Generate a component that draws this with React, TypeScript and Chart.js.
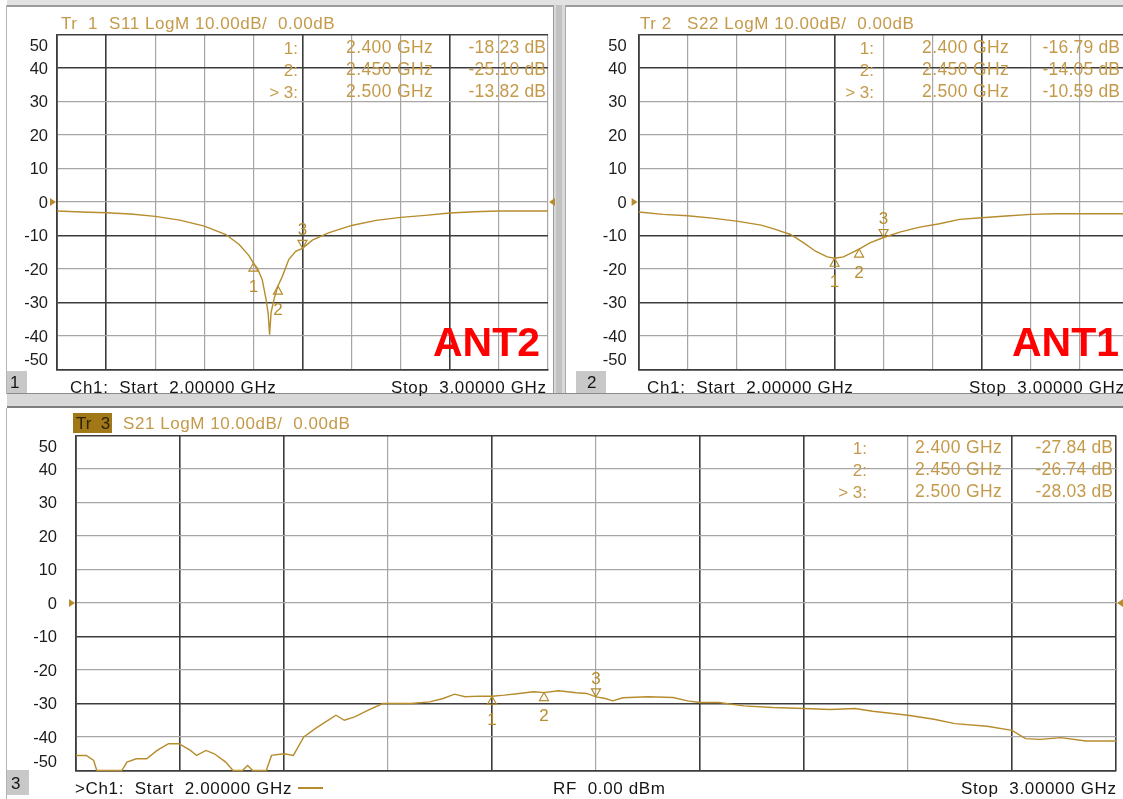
import React, { useEffect, useRef } from "react";
import { Chart, registerables } from "chart.js";
Chart.register(...registerables);

const FONT = '"Liberation Sans", Arial, sans-serif';
const TRACE = "#b68c2c";
const ANNOT = "#c49a4a";
const DARK = "#3c3c3c";
const GREY = "#a6a6a6";
const W = 1123;
const H = 799;
const CW = 1140;
const CH = 810;

// ---------- data (GHz, dB) ----------
const yTickValues = [50, 40, 30, 20, 10, 0, -10, -20, -30, -40, -50];
const yTickLabels = ["50", "40", "30", "20", "10", "0", "-10", "-20", "-30", "-40", "-50"];

const markerFreqs = [2.4, 2.45, 2.5];
const markerNames = ["1", "2", "3"];
const markerRows = ["1:", "2:", "> 3:"];
const markerFreqLabels = ["2.400 GHz", "2.450 GHz", "2.500 GHz"];

const s11Freq = [2.0, 2.05, 2.1, 2.15, 2.2, 2.25, 2.3, 2.344, 2.371, 2.391, 2.4, 2.408, 2.418, 2.426, 2.43, 2.433, 2.436, 2.442, 2.45, 2.459, 2.472, 2.486, 2.5, 2.52, 2.553, 2.6, 2.65, 2.7, 2.75, 2.8, 2.85, 2.9, 2.95, 3.0];
const s11Val = [-2.7, -3.0, -3.2, -3.6, -4.3, -5.4, -7.2, -9.7, -12.7, -16.0, -18.23, -19.7, -23.2, -29.2, -33.2, -39.6, -33.0, -29.0, -25.1, -22.2, -17.2, -14.7, -13.82, -11.4, -9.2, -7.0, -5.5, -4.6, -4.0, -3.3, -2.9, -2.7, -2.7, -2.7];
const s11Markers = [-18.23, -25.1, -13.82];
const s11MarkerText = ["-18.23 dB", "-25.10 dB", "-13.82 dB"];

const s22Freq = [2.0, 2.05, 2.1, 2.15, 2.2, 2.25, 2.276, 2.31, 2.337, 2.361, 2.385, 2.4, 2.418, 2.45, 2.472, 2.5, 2.533, 2.574, 2.614, 2.655, 2.7, 2.75, 2.8, 2.85, 2.9, 2.95, 3.0];
const s22Val = [-3.0, -3.7, -4.1, -4.8, -5.7, -6.9, -8.0, -9.7, -12.2, -14.7, -16.4, -16.79, -16.4, -14.05, -12.2, -10.59, -9.0, -7.5, -6.5, -5.2, -4.7, -4.2, -3.7, -3.5, -3.5, -3.5, -3.5];
const s22Markers = [-16.79, -14.05, -10.59];
const s22MarkerText = ["-16.79 dB", "-14.05 dB", "-10.59 dB"];

const s21Freq = [2.0, 2.01, 2.017, 2.02, 2.044, 2.049, 2.058, 2.068, 2.078, 2.089, 2.099, 2.11, 2.116, 2.125, 2.133, 2.144, 2.151, 2.16, 2.165, 2.17, 2.183, 2.188, 2.2, 2.209, 2.219, 2.23, 2.24, 2.25, 2.258, 2.268, 2.281, 2.295, 2.322, 2.34, 2.353, 2.364, 2.374, 2.388, 2.4, 2.412, 2.426, 2.44, 2.45, 2.464, 2.481, 2.491, 2.5, 2.509, 2.516, 2.526, 2.55, 2.574, 2.588, 2.6, 2.618, 2.642, 2.67, 2.7, 2.725, 2.749, 2.766, 2.8, 2.825, 2.845, 2.876, 2.9, 2.913, 2.927, 2.947, 2.971, 3.0];
const s21Val = [-45.5, -45.5, -47, -50, -50, -47.5, -46.5, -46.5, -44, -42, -42, -44, -45.5, -44, -45, -47.5, -50, -50, -48.5, -50, -50, -45.5, -45, -45.5, -40, -37.5, -35.5, -33.5, -35, -34, -32, -30, -30, -29.5, -28.5, -27.2, -28, -27.8, -27.84, -27.5, -27, -26.5, -26.74, -26.2, -26.8, -27, -28.03, -28.5, -29.2, -28.3, -28, -28.2, -29.2, -29.7, -29.7, -30.7, -31.2, -31.5, -31.8, -31.5, -32.3, -33.5, -34.7, -36, -36.8, -38, -40.5, -40.7, -40.2, -41.2, -41.2];
const s21Markers = [-27.84, -26.74, -28.03];
const s21MarkerText = ["-27.84 dB", "-26.74 dB", "-28.03 dB"];

type PanelCfg = {
  freq: number[];
  vals: number[];
  markerVals: number[];
  area: { l: number; t: number; r: number; b: number };
  darkX: number[];
  darkY: number[];
  labelGap: number;
  topShift: number;
  botShift: number;
  rightArrow: boolean;
};

const overlay = {
  id: "overlay",
  afterDatasetsDraw(chart: any, _a: any, o: any) {
    const { ctx, chartArea } = chart;
    const xs = chart.scales.x;
    const ys = chart.scales.y;
    ctx.save();
    // y labels
    ctx.font = `16.5px ${FONT}`;
    ctx.fillStyle = "#1c1c1c";
    ctx.textAlign = "right";
    ctx.textBaseline = "middle";
    yTickValues.forEach((v, i) => {
      let py = ys.getPixelForValue(v);
      if (v === 50) py += o.topShift;
      if (v === -50) py -= o.botShift;
      ctx.fillText(yTickLabels[i], chartArea.left - o.labelGap, py + 1);
    });
    // reference arrows at 0 dB
    const y0 = ys.getPixelForValue(0);
    ctx.fillStyle = TRACE;
    ctx.beginPath();
    ctx.moveTo(chartArea.left - 1, y0);
    ctx.lineTo(chartArea.left - 7, y0 - 4);
    ctx.lineTo(chartArea.left - 7, y0 + 4);
    ctx.closePath();
    ctx.fill();
    if (o.rightArrow) {
      ctx.beginPath();
      ctx.moveTo(chartArea.right + 1, y0);
      ctx.lineTo(chartArea.right + 7, y0 - 4);
      ctx.lineTo(chartArea.right + 7, y0 + 4);
      ctx.closePath();
      ctx.fill();
    }
    // markers
    ctx.strokeStyle = TRACE;
    ctx.lineWidth = 1.2;
    ctx.font = `17px ${FONT}`;
    ctx.textAlign = "center";
    markerFreqs.forEach((f, i) => {
      const px = xs.getPixelForValue(f * 1000);
      const py = ys.getPixelForValue(o.markerVals[i]);
      const up = i < 2;
      const d = up ? 8 : -8;
      ctx.beginPath();
      ctx.moveTo(px, py);
      ctx.lineTo(px - 4.5, py + d);
      ctx.lineTo(px + 4.5, py + d);
      ctx.closePath();
      ctx.stroke();
      ctx.fillText(markerNames[i], px, up ? py + 24 : py - 18);
    });
    ctx.restore();
  },
};

function TraceChart({ cfg }: { cfg: PanelCfg }) {
  const ref = useRef<HTMLCanvasElement>(null);
  useEffect(() => {
    const { area } = cfg;
    const gridColor = (dark: number[]) => (c: any) =>
      dark.includes(Math.round(c.tick?.value)) ? DARK : GREY;
    const gridWidth = (dark: number[]) => (c: any) =>
      dark.includes(Math.round(c.tick?.value)) ? 1.6 : 1.2;
    const chart = new Chart(ref.current as HTMLCanvasElement, {
      type: "line",
      data: {
        datasets: [
          {
            data: cfg.freq.map((f, i) => ({ x: f * 1000, y: cfg.vals[i] })),
            borderColor: TRACE,
            borderWidth: 1.4,
            pointRadius: 0,
            tension: 0,
            clip: 4,
          } as any,
        ],
      },
      options: {
        responsive: false,
        animation: false,
        layout: { padding: { left: area.l, top: area.t, right: CW - area.r, bottom: CH - area.b } },
        plugins: {
          legend: { display: false },
          tooltip: { enabled: false },
          overlay: {
            markerVals: cfg.markerVals,
            labelGap: cfg.labelGap,
            topShift: cfg.topShift,
            botShift: cfg.botShift,
            rightArrow: cfg.rightArrow,
          },
        } as any,
        scales: {
          x: {
            type: "linear",
            min: 2000,
            max: 3000,
            ticks: { stepSize: 100, display: false },
            grid: { color: gridColor(cfg.darkX), lineWidth: gridWidth(cfg.darkX), drawTicks: false },
            border: { display: true, color: DARK, width: 1.6 },
            afterFit: (s: any) => {
              s.height = 0;
            },
          },
          y: {
            type: "linear",
            min: -50,
            max: 50,
            ticks: { stepSize: 10, display: false },
            grid: { color: gridColor(cfg.darkY), lineWidth: gridWidth(cfg.darkY), drawTicks: false },
            border: { display: true, color: DARK, width: 1.6 },
            afterFit: (s: any) => {
              s.width = 0;
            },
          },
        },
      },
      plugins: [overlay as any],
    });
    return () => chart.destroy();
  }, []);
  return (
    <canvas
      ref={ref}
      width={CW}
      height={CH}
      style={{ position: "absolute", left: 0, top: 0, width: CW, height: CH }}
    />
  );
}

function Txt(p: {
  x: number;
  cy: number;
  s: string;
  size?: number;
  color?: string;
  align?: "left" | "right";
  weight?: number;
  ls?: number;
}) {
  const size = p.size ?? 17;
  const ls = p.ls ?? 0.55;
  const style: React.CSSProperties = {
    position: "absolute",
    top: p.cy - size * 0.49,
    fontSize: size,
    lineHeight: `${size}px`,
    color: p.color ?? "#151515",
    fontWeight: p.weight ?? 400,
    whiteSpace: "pre",
    fontFamily: FONT,
    letterSpacing: ls,
  };
  if ((p.align ?? "left") === "left") style.left = p.x;
  else style.right = W - p.x - ls;
  return <div style={style}>{p.s}</div>;
}

function Box(p: { x: number; y: number; w: number; h: number; bg: string }) {
  return (
    <div
      style={{ position: "absolute", left: p.x, top: p.y, width: p.w, height: p.h, background: p.bg }}
    />
  );
}

function MarkerTable(p: { rowX: number; freqX: number; valR: number; cy0: number; vals: string[] }) {
  return (
    <>
      {markerRows.map((r, i) => (
        <React.Fragment key={i}>
          <Txt x={p.rowX} cy={p.cy0 + i * 22} s={r} align="right" color={ANNOT} size={17} ls={0} />
          <Txt x={p.freqX} cy={p.cy0 + i * 22} s={markerFreqLabels[i]} color={ANNOT} size={17.5} ls={0.4} />
          <Txt x={p.valR} cy={p.cy0 + i * 22} s={p.vals[i]} align="right" color={ANNOT} size={17.5} ls={0.2} />
        </React.Fragment>
      ))}
    </>
  );
}

const p1: PanelCfg = {
  freq: s11Freq,
  vals: s11Val,
  markerVals: s11Markers,
  area: { l: 57, t: 34.5, r: 548, b: 369.5 },
  darkX: [2000, 2100, 2500, 2800],
  darkY: [50, 40, -10, -30, -50],
  labelGap: 9,
  topShift: 11,
  botShift: 10,
  rightArrow: true,
};
const p2: PanelCfg = {
  freq: s22Freq,
  vals: s22Val,
  markerVals: s22Markers,
  area: { l: 638.6, t: 34.5, r: 1128.6, b: 369.5 },
  darkX: [2000, 2400, 2700],
  darkY: [50, 40, -10, -30, -50],
  labelGap: 12,
  topShift: 11,
  botShift: 10,
  rightArrow: true,
};
const p3: PanelCfg = {
  freq: s21Freq,
  vals: s21Val,
  markerVals: s21Markers,
  area: { l: 76, t: 435.5, r: 1116, b: 770.5 },
  darkX: [2000, 2100, 2200, 2400, 2600, 2700, 2900, 3000],
  darkY: [50, -10, -30, -50],
  labelGap: 19,
  topShift: 11,
  botShift: 9,
  rightArrow: true,
};

export default function App() {
  return (
    <div
      style={{
        position: "fixed",
        left: 0,
        top: 0,
        width: W,
        height: H,
        overflow: "hidden",
        background: "#ffffff",
        fontFamily: FONT,
      }}
    >
      {/* frame / separators */}
      <Box x={7} y={0} w={W} h={5} bg="#e2e2e2" />
      <Box x={7} y={5} w={W} h={2} bg="#9c9c9c" />
      <Box x={553} y={5} w={12} h={389} bg="#d9d9d9" />
      <Box x={556} y={5} w={6} h={389} bg="#c2c2c2" />
      <Box x={553} y={5} w={1} h={389} bg="#9a9a9a" />
      <Box x={565} y={5} w={1} h={389} bg="#a8a8a8" />
      <Box x={6} y={5} w={1} h={389} bg="#b4b4b4" />
      <Box x={7} y={393} w={W} h={1} bg="#8c8c8c" />
      <Box x={7} y={394} w={W} h={12} bg="#d8d8d8" />
      <Box x={7} y={406} w={W} h={2} bg="#7e7e7e" />
      <Box x={6} y={408} w={1} h={400} bg="#b4b4b4" />

      <TraceChart cfg={p1} />
      <TraceChart cfg={p2} />
      <TraceChart cfg={p3} />

      {/* panel 1 */}
      <Txt x={61} cy={23} s="Tr  1" color={ANNOT} />
      <Txt x={109} cy={23} s="S11 LogM 10.00dB/  0.00dB" color={ANNOT} />
      <MarkerTable rowX={298} freqX={346} valR={546} cy0={48} vals={s11MarkerText} />
      <Box x={7} y={371} w={20} h={22} bg="#c8c8c8" />
      <Txt x={10} cy={382} s="1" ls={0} />
      <Txt x={70} cy={387} s="Ch1:  Start  2.00000 GHz" ls={0.65} />
      <Txt x={546} cy={387} s="Stop  3.00000 GHz" align="right" ls={0.65} />
      <Txt x={433} cy={342} s="ANT2" size={41} weight={700} color="#ff0000" ls={0} />

      {/* panel 2 */}
      <Txt x={640} cy={23} s="Tr 2" color={ANNOT} />
      <Txt x={687} cy={23} s="S22 LogM 10.00dB/  0.00dB" color={ANNOT} />
      <MarkerTable rowX={874} freqX={922} valR={1120} cy0={48} vals={s22MarkerText} />
      <Box x={576} y={371} w={30} h={22} bg="#c8c8c8" />
      <Txt x={587} cy={382} s="2" ls={0} />
      <Txt x={647} cy={387} s="Ch1:  Start  2.00000 GHz" ls={0.65} />
      <Txt x={969} cy={387} s="Stop  3.00000 GHz" ls={0.65} />
      <Txt x={1012} cy={342} s="ANT1" size={41} weight={700} color="#ff0000" ls={0} />

      {/* panel 3 */}
      <Box x={73} y={413} w={39} h={20} bg="#a07818" />
      <Txt x={76} cy={423} s="Tr  3" color="#2e2200" ls={0} />
      <Txt x={123} cy={423} s="S21 LogM 10.00dB/  0.00dB" color={ANNOT} />
      <MarkerTable rowX={867} freqX={915} valR={1113} cy0={448} vals={s21MarkerText} />
      <Box x={7} y={770} w={22} h={25} bg="#c8c8c8" />
      <Txt x={11} cy={783} s="3" ls={0} />
      <Txt x={75} cy={788} s=">Ch1:  Start  2.00000 GHz" ls={0.65} />
      <Box x={298} y={787} w={25} h={2} bg={TRACE} />
      <Txt x={553} cy={788} s="RF  0.00 dBm" ls={0.65} />
      <Txt x={1116} cy={788} s="Stop  3.00000 GHz" align="right" ls={0.65} />
    </div>
  );
}
